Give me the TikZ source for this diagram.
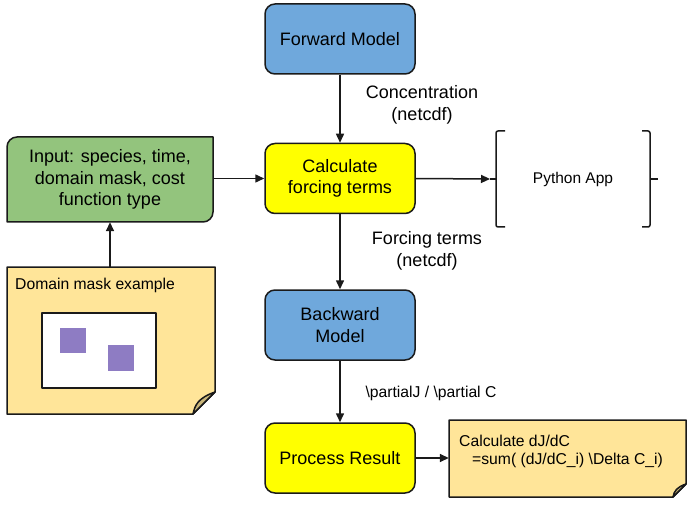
\documentclass[tikz,border=0pt]{standalone}
\usepackage{fontspec}
\setmainfont{Liberation Sans}
\usetikzlibrary{arrows.meta}
\definecolor{bluebox}{HTML}{6FA8DC}
\definecolor{yellowbox}{HTML}{FFFF00}
\definecolor{greenbox}{HTML}{93C47D}
\definecolor{notefill}{HTML}{FFE599}
\definecolor{foldfill}{HTML}{C9B67A}
\definecolor{purplesq}{HTML}{8E7CC3}
\definecolor{edge}{HTML}{1A1A1A}
\tikzset{
  x=1pt, y=-1pt,
  bigtext/.style={font=\fontsize{18}{21.5}\selectfont, align=center},
  smalltext/.style={font=\fontsize{15.7}{18}\selectfont},
  procbox/.style={draw=edge, line width=1.5pt, rounded corners=10pt, minimum width=150pt, minimum height=70pt, bigtext, inner sep=0pt},
  conn/.style={draw=edge, line width=1.5pt, -{Triangle[length=9pt,width=8pt]}},
  outline/.style={draw=edge, line width=1.5pt, line join=round},
}
\begin{document}
\begin{tikzpicture}
\useasboundingbox (0,0) rectangle (700,510);

% process boxes
\node[procbox, fill=bluebox] (fwd) at (340,39) {Forward Model};
\node[procbox, fill=yellowbox] (calc) at (340,178.5) {Calculate\\forcing terms};
\node[procbox, fill=bluebox] (bwd) at (340,325) {Backward\\Model};
\node[procbox, fill=yellowbox] (proc) at (340,458) {Process Result};

% input box (rounded top-left and bottom-right)
\path[outline, fill=greenbox] (7,222) -- (7,147) .. controls (7,141.5) and (11.5,137) .. (17,137)
  -- (213,137) -- (213,212) .. controls (213,217.5) and (208.5,222) .. (203,222) -- cycle;
\node[bigtext, minimum width=206pt, minimum height=85pt, inner sep=0pt] (inp) at (110,179.5)
  {Input: species, time,\\domain mask, cost\\function type};

% domain mask note
\path[outline, fill=notefill] (7,267) -- (215,267) -- (215,392) -- (193,414) -- (7,414) -- cycle;
\path[outline, fill=foldfill] (215,392) -- (193,414) .. controls (195,405) and (198,398) .. (215,392) -- cycle;
\node[minimum width=208pt, minimum height=147pt, inner sep=0pt] (dom) at (111,340.5) {};
\node[smalltext, anchor=west, inner sep=0pt] (domlbl) at (15,285) {Domain mask example};
\draw[outline, fill=white] (42,313) rectangle (156,388);
\fill[purplesq] (60,328) rectangle (86,353);
\fill[purplesq] (108,345) rectangle (134,371);

% python app brackets
\node[font=\fontsize{15.5}{18}\selectfont, minimum width=154pt, minimum height=96pt, inner sep=0pt] (py) at (573,179) {Python App};
\draw[outline, rounded corners=2pt] (505,131) -- (496,131) -- (496,227) -- (505,227);
\draw[outline] (490,179) -- (496,179);
\coordinate (pyin) at (490,179);
\draw[outline, rounded corners=2pt] (642,131) -- (650,131) -- (650,227) -- (642,227);
\draw[outline] (650,179) -- (658,179);

% result note
\path[outline, fill=notefill] (449,420) -- (686,420) -- (686,484) -- (673,497) -- (449,497) -- cycle;
\path[outline, fill=foldfill] (686,484) -- (673,497) .. controls (674,491) and (677,487) .. (686,484) -- cycle;
\node[minimum width=237pt, minimum height=77pt, inner sep=0pt] (res) at (567.5,458) {};
\node[smalltext, anchor=west, align=left, inner sep=0pt] (reslbl) at (459,451.5)
  {Calculate dJ/dC\\\hspace{13pt}=sum( (dJ/dC\_i) \textbackslash Delta C\_i)};

% connectors
\draw[conn] (fwd) -- (calc);
\draw[conn] (calc) -- (bwd);
\draw[conn] (bwd) -- (proc);
\draw[conn] (inp.east |- calc.west) -- (calc.west);
\draw[conn] (dom.north -| inp.south) -- (inp.south);
\draw[conn] (calc.east) -- (pyin);
\draw[conn] (proc.east) -- (res.west);

% labels
\node[bigtext] (lconc) at (422,105) {Concentration\\(netcdf)};
\node[bigtext] (lforc) at (427,251) {Forcing terms\\(netcdf)};
\node[smalltext] (lpart) at (431,393) {\textbackslash partialJ / \textbackslash partial C};
\end{tikzpicture}
\end{document}
